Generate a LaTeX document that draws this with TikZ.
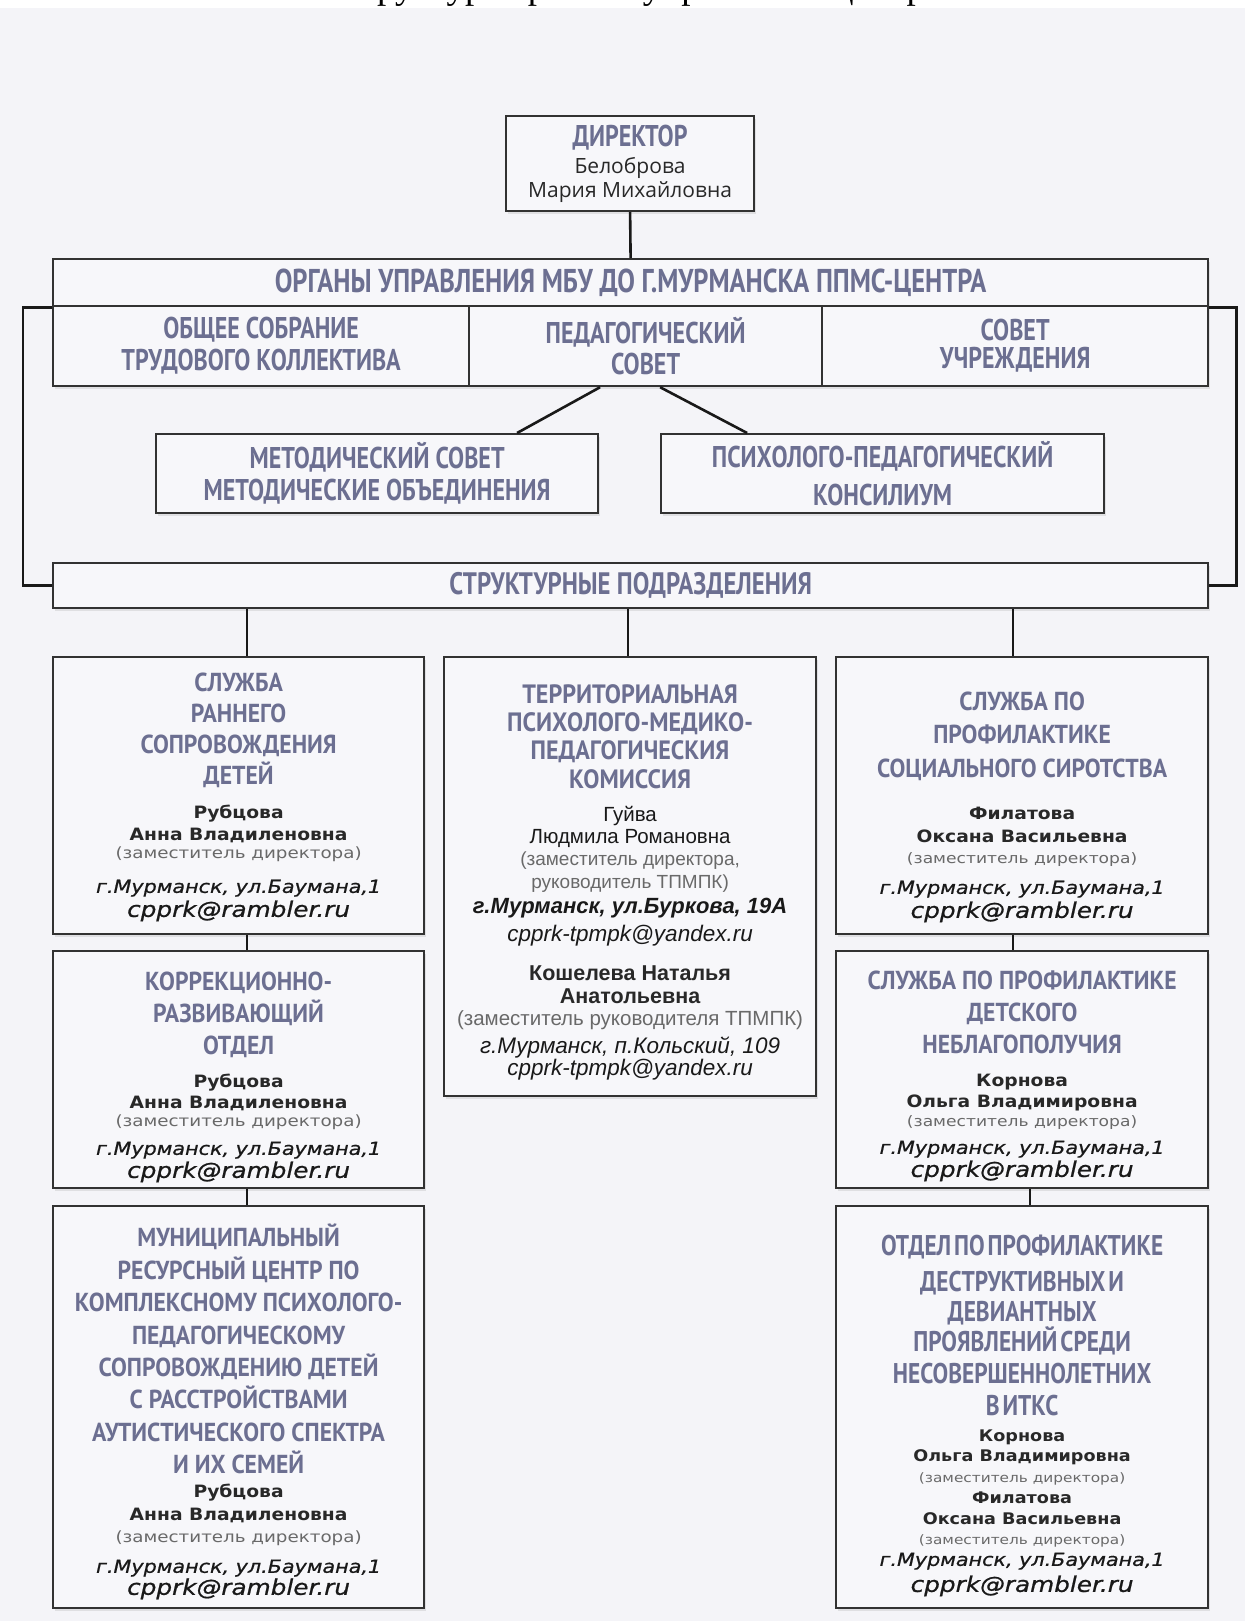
\documentclass[tikz,border=0pt]{standalone}
\usepackage{fontspec}
\usetikzlibrary{shadows}
\setmainfont{Liberation Serif}
\newfontfamily\topface[FakeStretch=0.80]{PT Sans}
\newfontfamily\colface[FakeStretch=0.91]{PT Sans}
\newfontfamily\tightface[FakeStretch=0.82,WordSpace=0.5]{PT Sans}
\newfontfamily\nameface[FakeStretch=1.10]{DejaVu Sans}
\newfontfamily\roleface[FakeStretch=1.18]{DejaVu Sans}
\newfontfamily\adrface[FakeStretch=1.15,FakeBold=0.8]{DejaVu Sans}
\newfontfamily\arface{Liberation Sans}
\newfontfamily\dirface{Open Sans}

\definecolor{headc}{RGB}{108,111,145}
\definecolor{bgc}{RGB}{244,244,248}
\definecolor{boxc}{RGB}{247,247,250}
\definecolor{linec}{RGB}{50,50,50}
\definecolor{namec}{RGB}{40,40,40}
\definecolor{rolec}{RGB}{105,105,105}
\definecolor{adrc}{RGB}{25,25,25}

% rows are spaced only by the gaps given with \\[..]
\newcommand\zerolines{\baselineskip=0pt\lineskip=0pt\lineskiplimit=-1000pt\relax}
\newcommand\hTop[2][30]{{\topface\bfseries\fontsize{#1}{#1}\selectfont\color{headc}#2}}
\newcommand\hCol[2][26]{{\colface\bfseries\fontsize{#1}{#1}\selectfont\color{headc}#2}}
\newcommand\hTight[2][28.5]{{\tightface\bfseries\fontsize{#1}{#1}\selectfont\color{headc}#2}}
\newcommand\nmLine[2][17]{{\nameface\bfseries\fontsize{#1}{#1}\selectfont\color{namec}#2}}
\newcommand\roleLine[2][15.5]{{\roleface\fontsize{#1}{#1}\selectfont\color{rolec}#2}}
\newcommand\adrLine[2][18]{{\adrface\itshape\fontsize{#1}{#1}\selectfont\color{adrc}#2}}
\newcommand\arName[2][20.5]{{\arface\fontsize{#1}{#1}\selectfont\color{adrc}#2}}
\newcommand\arBold[2][21.5]{{\arface\bfseries\fontsize{#1}{#1}\selectfont\color{namec}#2}}
\newcommand\arRole[2][19]{{\arface\fontsize{#1}{#1}\selectfont\color{rolec}#2}}
\newcommand\arIt[2][22.5]{{\arface\itshape\fontsize{#1}{#1}\selectfont\color{adrc}#2}}
\newcommand\arBoldIt[2][22]{{\arface\bfseries\itshape\fontsize{#1}{#1}\selectfont\color{adrc}#2}}
\newcommand\dirName[2][21]{{\dirface\fontsize{#1}{#1}\selectfont\color{namec}#2}}

\begin{document}
\begin{tikzpicture}[x=1pt, y=-1pt,
  unitbox/.style={draw=linec, line width=2.2pt, fill=boxc, inner sep=0pt,
    anchor=north west, align=center, font=\zerolines,
    drop shadow={shadow xshift=2pt, shadow yshift=-3pt, opacity=0.18}},
  wire/.style={draw=black!90, line width=2.6pt}]
\useasboundingbox (0,0) rectangle (1245,1621);
\fill[bgc] (0,8) rectangle (1245,1621);
\fill[white] (0,0) rectangle (1245,8);
\node[anchor=base west, inner sep=0pt, font=\fontsize{37}{37}\selectfont] (ttl) at (336,-1) {Структура органов управления центра};

% top of the chart
\node[unitbox, minimum width=248pt, minimum height=95pt] (dir) at (505,115) {%
  \hTop{ДИРЕКТОР}\\[27pt]
  \dirName{Белоброва}\\[24pt]
  \dirName{Мария Михайловна}};
\node[unitbox, minimum width=1155pt, minimum height=47pt] (org) at (52,258) {\hTop[33]{ОРГАНЫ УПРАВЛЕНИЯ МБУ ДО Г.МУРМАНСКА ППМС-ЦЕНТРА}};
\node[unitbox, minimum width=416pt, minimum height=80pt] (obs) at (52,305) {%
  \hTop{ОБЩЕЕ СОБРАНИЕ}\\[32pt]
  \hTop{ТРУДОВОГО КОЛЛЕКТИВА}};
\node[unitbox, minimum width=353pt, minimum height=80pt] (ped) at (468,305) {%
  \hTop{ПЕДАГОГИЧЕСКИЙ}\\[31pt]
  \hTop{СОВЕТ}};
\node[unitbox, minimum width=386pt, minimum height=80pt] (sov) at (821,305) {%
  \hTop{СОВЕТ}\\[28pt]
  \hTop{УЧРЕЖДЕНИЯ}};
\node[unitbox, minimum width=442pt, minimum height=79pt] (met) at (155,433) {%
  \hTop{МЕТОДИЧЕСКИЙ СОВЕТ}\\[32pt]
  \hTop{МЕТОДИЧЕСКИЕ ОБЪЕДИНЕНИЯ}};
\node[unitbox, minimum width=443pt, minimum height=79pt] (psy) at (660,433) {%
  \hTop{ПСИХОЛОГО-ПЕДАГОГИЧЕСКИЙ}\\[38pt]
  \hTop{КОНСИЛИУМ}};
\node[unitbox, minimum width=1155pt, minimum height=45pt] (str) at (52,562) {\hTop[31]{СТРУКТУРНЫЕ ПОДРАЗДЕЛЕНИЯ}};

% left column
\node[unitbox, minimum width=371pt, minimum height=277pt] (lA) at (52,656) {%
  \mbox{}\\[22pt]
  \hCol{СЛУЖБА}\\[31pt]
  \hCol{РАННЕГО}\\[31pt]
  \hCol{СОПРОВОЖДЕНИЯ}\\[31pt]
  \hCol{ДЕТЕЙ}\\[34pt]
  \nmLine{Рубцова}\\[22pt]
  \nmLine{Анна Владиленовна}\\[18pt]
  \roleLine{(заместитель директора)}\\[34pt]
  \adrLine{г.Мурманск, ул.Баумана,1}\\[24pt]
  \adrLine[21.5]{cpprk@rambler.ru}};
\node[unitbox, minimum width=371pt, minimum height=237pt] (lB) at (52,950) {%
  \mbox{}\\[34pt]
  \hCol{КОРРЕКЦИОННО-}\\[32pt]
  \hCol{РАЗВИВАЮЩИЙ}\\[32pt]
  \hCol{ОТДЕЛ}\\[33pt]
  \nmLine{Рубцова}\\[21pt]
  \nmLine{Анна Владиленовна}\\[18pt]
  \roleLine{(заместитель директора)}\\[28pt]
  \adrLine{г.Мурманск, ул.Баумана,1}\\[23pt]
  \adrLine[21.5]{cpprk@rambler.ru}};
\node[unitbox, minimum width=371pt, minimum height=402pt] (lC) at (52,1205) {%
  \mbox{}\\[32pt]
  \hCol{МУНИЦИПАЛЬНЫЙ}\\[32.4pt]
  \hCol{РЕСУРСНЫЙ ЦЕНТР ПО}\\[32.4pt]
  \hCol{КОМПЛЕКСНОМУ ПСИХОЛОГО-}\\[32.4pt]
  \hCol{ПЕДАГОГИЧЕСКОМУ}\\[32.4pt]
  \hCol{СОПРОВОЖДЕНИЮ ДЕТЕЙ}\\[32.4pt]
  \hCol{С РАССТРОЙСТВАМИ}\\[32.4pt]
  \hCol{АУТИСТИЧЕСКОГО СПЕКТРА}\\[32.4pt]
  \hCol{И ИХ СЕМЕЙ}\\[24pt]
  \nmLine{Рубцова}\\[23pt]
  \nmLine{Анна Владиленовна}\\[22pt]
  \roleLine{(заместитель директора)}\\[30pt]
  \adrLine{г.Мурманск, ул.Баумана,1}\\[22pt]
  \adrLine[21.5]{cpprk@rambler.ru}};

% middle column
\node[unitbox, minimum width=372pt, minimum height=439pt] (mA) at (443,656) {%
  \mbox{}\\[30pt]
  \hCol[26.5]{ТЕРРИТОРИАЛЬНАЯ}\\[28.3pt]
  \hCol[26.5]{ПСИХОЛОГО-МЕДИКО-}\\[28.3pt]
  \hCol[26.5]{ПЕДАГОГИЧЕСКИЯ}\\[28.3pt]
  \hCol[26.5]{КОМИССИЯ}\\[33pt]
  \arName{Гуйва}\\[22pt]
  \arName{Людмила Романовна}\\[22pt]
  \arRole{(заместитель директора,}\\[23pt]
  \arRole{руководитель ТПМПК)}\\[25pt]
  \arBoldIt{г.Мурманск, ул.Буркова, 19А}\\[28pt]
  \arIt{cpprk-tpmpk@yandex.ru}\\[39pt]
  \arBold{Кошелева Наталья}\\[23pt]
  \arBold{Анатольевна}\\[22pt]
  \arRole[20.5]{(заместитель руководителя ТПМПК)}\\[28pt]
  \arIt{г.Мурманск, п.Кольский, 109}\\[22pt]
  \arIt{cpprk-tpmpk@yandex.ru}};

% right column
\node[unitbox, minimum width=372pt, minimum height=277pt] (rA) at (835,656) {%
  \mbox{}\\[42pt]
  \hCol{СЛУЖБА ПО}\\[33pt]
  \hCol{ПРОФИЛАКТИКЕ}\\[34pt]
  \hCol{СОЦИАЛЬНОГО СИРОТСТВА}\\[42pt]
  \nmLine{Филатова}\\[23pt]
  \nmLine{Оксана Васильевна}\\[21pt]
  \roleLine[14.5]{(заместитель директора)}\\[30pt]
  \adrLine{г.Мурманск, ул.Баумана,1}\\[24pt]
  \adrLine[21.5]{cpprk@rambler.ru}};
\node[unitbox, minimum width=372pt, minimum height=237pt] (rB) at (835,950) {%
  \mbox{}\\[32pt]
  \hCol{СЛУЖБА ПО ПРОФИЛАКТИКЕ}\\[32pt]
  \hCol{ДЕТСКОГО}\\[32pt]
  \hCol{НЕБЛАГОПОЛУЧИЯ}\\[33pt]
  \nmLine{Корнова}\\[21pt]
  \nmLine{Ольга Владимировна}\\[19pt]
  \roleLine[14.5]{(заместитель директора)}\\[27pt]
  \adrLine{г.Мурманск, ул.Баумана,1}\\[23pt]
  \adrLine[21.5]{cpprk@rambler.ru}};
\node[unitbox, minimum width=372pt, minimum height=402pt] (rC) at (835,1205) {%
  \mbox{}\\[38pt]
  \hTight{ОТДЕЛ ПО ПРОФИЛАКТИКЕ}\\[36pt]
  \hTight{ДЕСТРУКТИВНЫХ И}\\[30pt]
  \hTight{ДЕВИАНТНЫХ}\\[30pt]
  \hTight{ПРОЯВЛЕНИЙ СРЕДИ}\\[32pt]
  \hTight{НЕСОВЕРШЕННОЛЕТНИХ}\\[32pt]
  \hTight{В ИТКС}\\[26pt]
  \nmLine[16]{Корнова}\\[20pt]
  \nmLine[16]{Ольга Владимировна}\\[21pt]
  \roleLine[13]{(заместитель директора)}\\[21pt]
  \nmLine[16]{Филатова}\\[21pt]
  \nmLine[16]{Оксана Васильевна}\\[20pt]
  \roleLine[13]{(заместитель директора)}\\[21pt]
  \adrLine{г.Мурманск, ул.Баумана,1}\\[26pt]
  \adrLine[21.5]{cpprk@rambler.ru}};

% connectors
\coordinate (cL) at (247,0);
\coordinate (cM) at (628,0);
\coordinate (cR) at (1013,0);
\coordinate (cR2) at (1030,0);
\draw[wire] (dir.south) -- (org.north);
\draw[wire] ([xshift=-45.5pt]ped.south) -- ([xshift=140pt]met.north);
\draw[wire] ([xshift=14.5pt]ped.south) -- ([xshift=-135.5pt]psy.north);
\draw[wire] (org.south west) -- ++(-29,0) |- (str.west);
\draw[wire] (org.south east) -- ++(27,0) |- (str.east);
\draw[wire] (str.south -| cL) -- (lA.north -| cL);
\draw[wire] (str.south -| cM) -- (mA.north -| cM);
\draw[wire] (str.south -| cR) -- (rA.north -| cR);
\draw[wire] (lA.south -| cL) -- (lB.north -| cL);
\draw[wire] (lB.south -| cL) -- (lC.north -| cL);
\draw[wire] (rA.south -| cR) -- (rB.north -| cR);
\draw[wire] (rB.south -| cR2) -- (rC.north -| cR2);
\end{tikzpicture}
\end{document}
